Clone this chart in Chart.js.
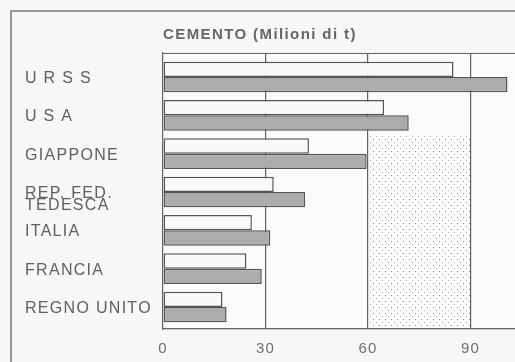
<!DOCTYPE html>
<html>
<head>
    <meta charset="UTF-8" />
    <title>Cemento</title>
    <script src="https://cdn.jsdelivr.net/npm/chart.js@4.4.1/dist/chart.umd.min.js"></script>
    <style>
        html, body {
            margin: 0;
            padding: 0;
            background-color: #f7f7f5;
        }
        #wrap {
            width: 515px;
            height: 362px;
        }
    </style>
</head>
<body>
    <div id="wrap"><canvas id="cemento"></canvas></div>

    <script>
        // paesi (the empty first line keeps REP. FED. level with its bars)
        var paesi = ['U R S S', 'U S A', 'GIAPPONE', ['', 'REP. FED.', 'TEDESCA'], 'ITALIA', 'FRANCIA', 'REGNO UNITO'];
        // milioni di t, barra chiara (sopra) e barra grigia (sotto)
        var prodChiara = [85, 64.7, 42.7, 32.4, 26.0, 24.4, 17.4];
        var prodGrigia = [100.8, 71.9, 59.6, 41.6, 31.4, 28.9, 18.6];
        var tickX = [0, 30, 60, 90];
        var titolo = 'CEMENTO (Milioni di t)';

        var lineColor = '#626262';

        // rows on a numeric axis so the margins above/below can differ from the row gap
        function punti(arr) {
            return arr.map(function (v, i) { return { x: v, y: i }; });
        }

        // small dotted texture for the 60-90 band
        function makeDots() {
            var c = document.createElement('canvas');
            c.width = 6; c.height = 6;
            var g = c.getContext('2d');
            g.fillStyle = '#fcfcfb';
            g.fillRect(0, 0, 6, 6);
            g.fillStyle = '#8c8c8c';
            g.fillRect(1, 1, 1, 1);
            g.fillStyle = '#b4b4b4';
            g.fillRect(4, 4, 1, 1);
            return c;
        }

        var decor = {
            id: 'decor',
            beforeDraw: function (chart) {
                var ctx = chart.ctx;
                ctx.save();
                ctx.fillStyle = '#f7f7f5';
                ctx.fillRect(0, 0, chart.width, chart.height);
                var a = chart.chartArea;
                ctx.fillStyle = '#fbfbfa';
                ctx.fillRect(a.left, a.top, a.right - a.left, a.bottom - a.top);

                // dotted band between 60 and 90, below the USA bars
                var xs = chart.scales.x, ys = chart.scales.y;
                var top = (ys.getPixelForValue(1) + ys.getPixelForValue(2)) / 2 + 1;
                ctx.fillStyle = ctx.createPattern(makeDots(), 'repeat');
                ctx.fillRect(xs.getPixelForValue(60), top,
                    xs.getPixelForValue(90) - xs.getPixelForValue(60), a.bottom - top);

                // outer frame
                ctx.strokeStyle = '#7a7a7a';
                ctx.lineWidth = 1.5;
                ctx.beginPath();
                ctx.moveTo(11, chart.height);
                ctx.lineTo(11, 11);
                ctx.lineTo(chart.width, 11);
                ctx.stroke();

                // top line of the plot
                ctx.strokeStyle = lineColor;
                ctx.lineWidth = 1.2;
                ctx.beginPath();
                ctx.moveTo(a.left, a.top + 0.5);
                ctx.lineTo(a.right, a.top + 0.5);
                ctx.stroke();

                // title
                ctx.letterSpacing = '1.4px';
                ctx.fillStyle = '#666666';
                ctx.font = 'bold 15px "Liberation Sans", Arial, sans-serif';
                ctx.textBaseline = 'middle';
                ctx.fillText(titolo, a.left, 35);
                ctx.restore();
                ctx.letterSpacing = '1.3px';
            }
        };

        new Chart('cemento', {
            type: 'bar',
            data: {
                datasets: [{
                    data: punti(prodChiara),
                    backgroundColor: '#f9f9f8',
                    borderColor: '#555555',
                    borderWidth: 1.5,
                    borderSkipped: false
                }, {
                    data: punti(prodGrigia),
                    backgroundColor: '#acacac',
                    borderColor: '#555555',
                    borderWidth: 1.5,
                    borderSkipped: false
                }]
            },
            options: {
                indexAxis: 'y',
                responsive: true,
                maintainAspectRatio: false,
                animation: false,
                categoryPercentage: 0.8,
                barPercentage: 1.0,
                layout: { padding: { top: 53, left: 25, right: 0, bottom: 0 } },
                plugins: {
                    legend: { display: false },
                    tooltip: { enabled: false }
                },
                scales: {
                    x: {
                        type: 'linear',
                        min: 0,
                        max: 103,
                        afterBuildTicks: function (s) {
                            s.ticks = tickX.map(function (v) { return { value: v }; });
                        },
                        afterFit: function (s) { s.height = 33; },
                        grid: {
                            drawTicks: false,
                            color: function (c) { return c.tick && c.tick.value === 0 ? 'rgba(0,0,0,0)' : lineColor; },
                            lineWidth: 1.2
                        },
                        border: { display: true, color: lineColor, width: 1.2 },
                        ticks: {
                            padding: 11,
                            color: '#707070',
                            font: { family: '"Liberation Sans", Arial, sans-serif', size: 15 }
                        }
                    },
                    y: {
                        type: 'linear',
                        reverse: true,
                        offset: false,
                        min: -0.626,
                        max: 6.574,
                        afterBuildTicks: function (s) {
                            s.ticks = paesi.map(function (p, i) { return { value: i }; });
                        },
                        afterFit: function (s) { s.width = 138; },
                        grid: { display: false, offset: false },
                        border: { display: true, color: lineColor, width: 1.2 },
                        ticks: {
                            autoSkip: false,
                            crossAlign: 'far',
                            labelOffset: 1.5,
                            color: '#606060',
                            callback: function (v) { return paesi[v]; },
                            font: { family: '"Liberation Sans", Arial, sans-serif', size: 16, lineHeight: 0.78 }
                        }
                    }
                }
            },
            plugins: [decor]
        });
    </script>
</body>
</html>
